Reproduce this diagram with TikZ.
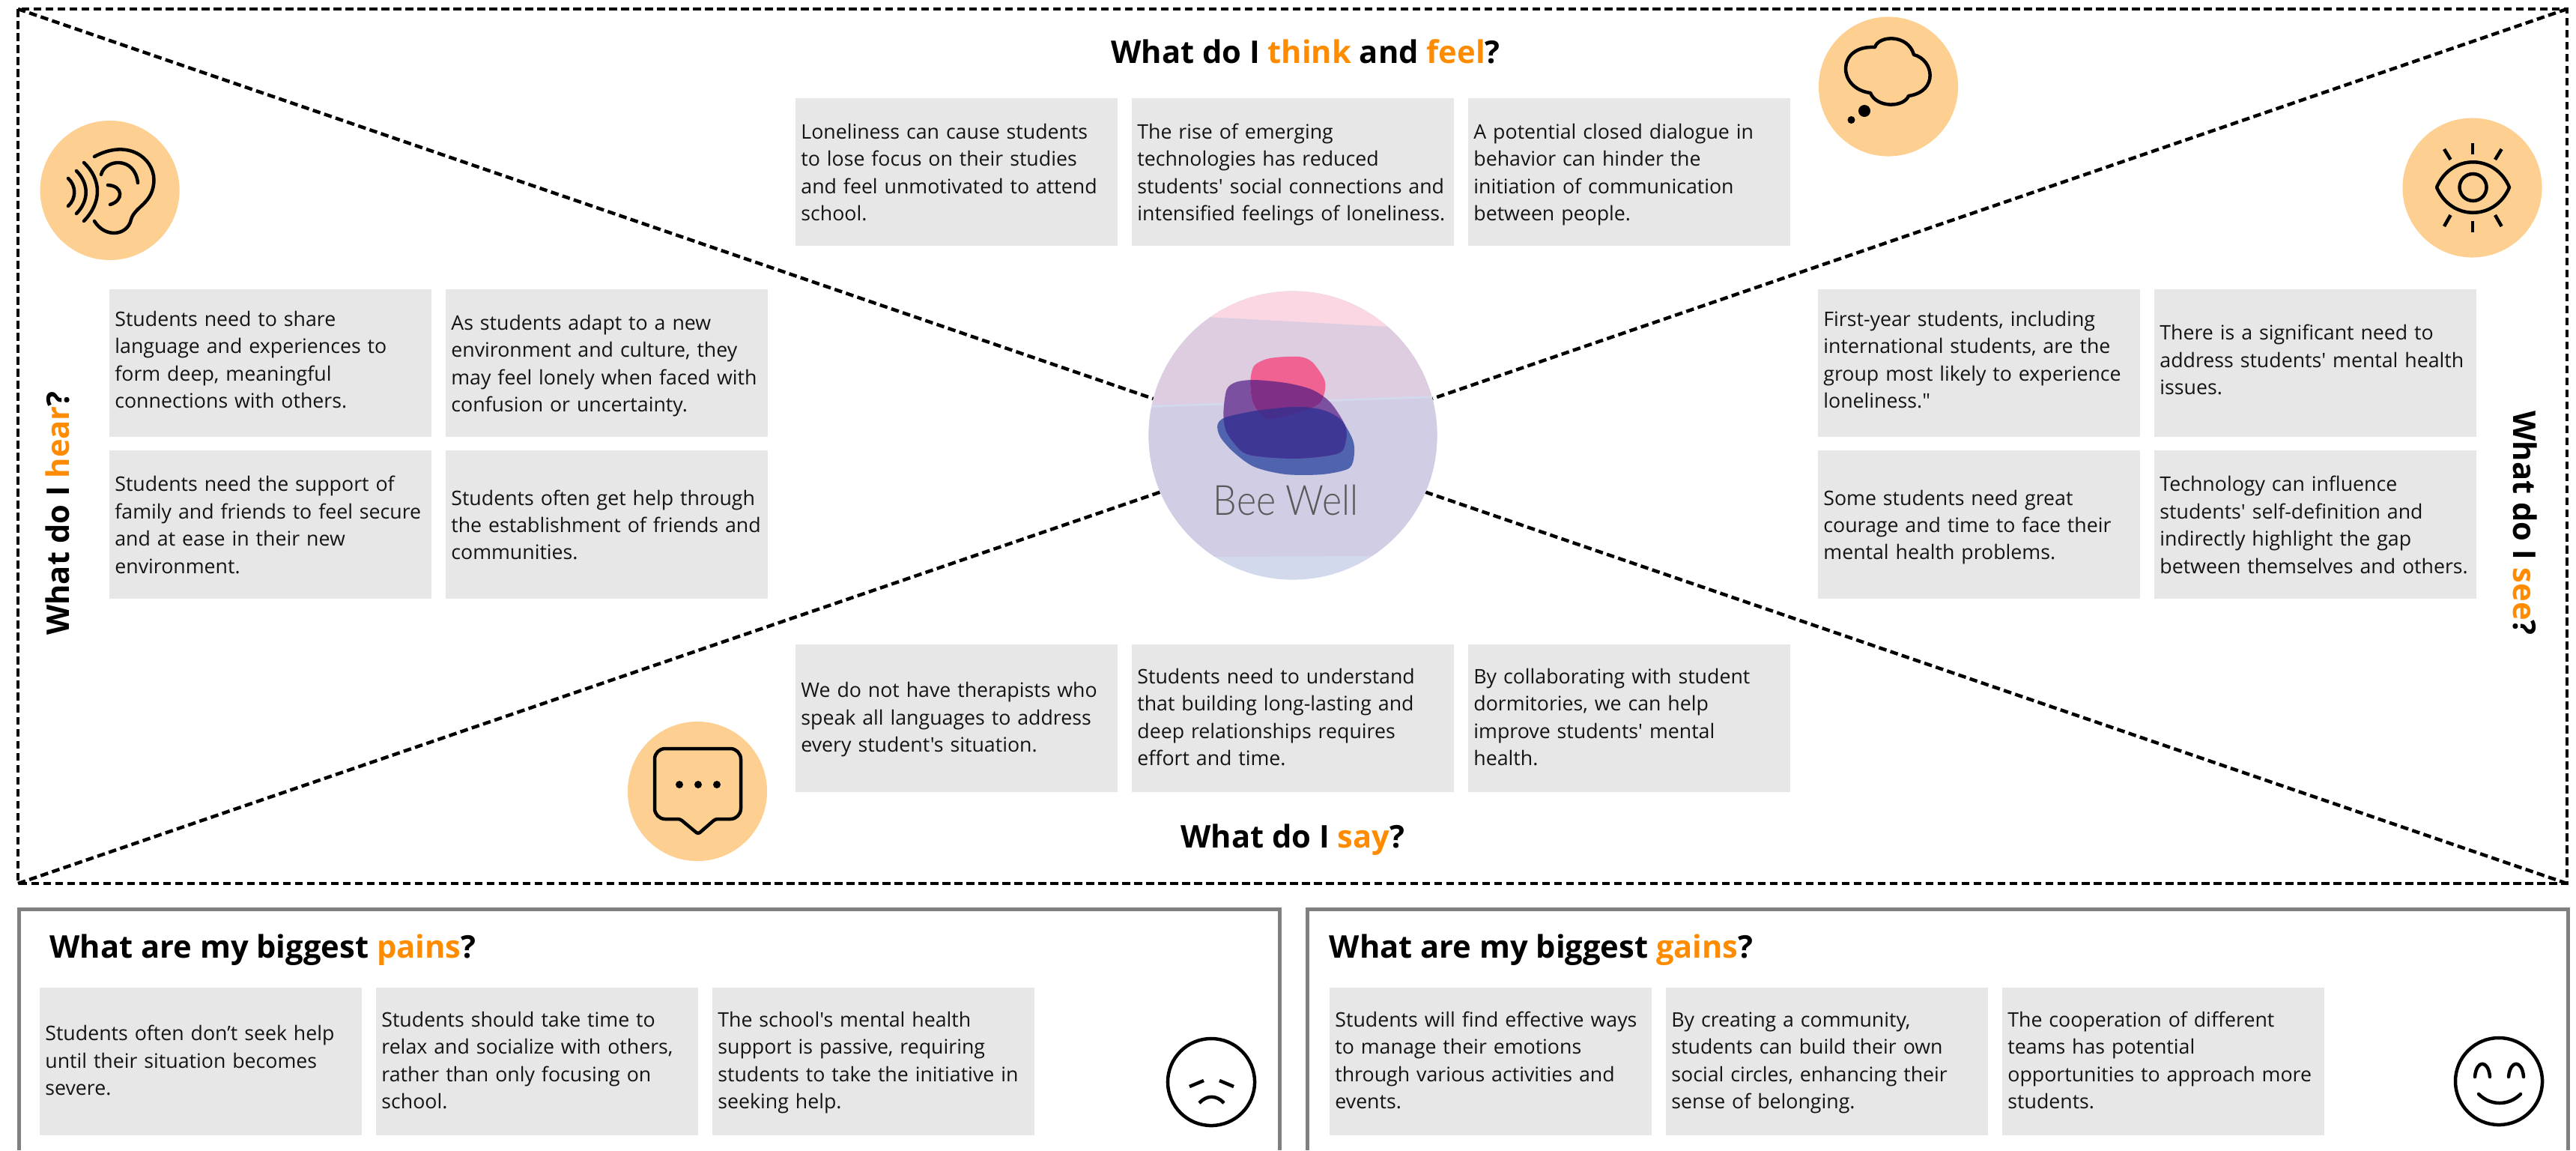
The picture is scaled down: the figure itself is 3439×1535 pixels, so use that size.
\documentclass[tikz,border=0pt]{standalone}
\usepackage{fontspec}
\usepackage{tikz}
\usetikzlibrary{positioning}
\newfontfamily\opensans{Open Sans}
\newfontfamily\beefont{Lato Light}
\definecolor{noteback}{HTML}{E7E7E7}
\definecolor{iconback}{HTML}{FDCF90}
\definecolor{keyorange}{HTML}{FF8C00}
\definecolor{framegray}{HTML}{808080}
\definecolor{bandpink}{HTML}{FBD7E3}
\definecolor{bandmauve}{HTML}{DECCE0}
\definecolor{bandlilac}{HTML}{D0CDE4}
\definecolor{bandblue}{HTML}{D3D9ED}
\definecolor{blobblue}{RGB}{80,99,174}
\definecolor{blobpurple}{RGB}{123,80,160}
\definecolor{blobpink}{RGB}{240,98,146}
\definecolor{blobplum}{RGB}{127,47,133}
\definecolor{blobnavy}{RGB}{63,55,150}
\definecolor{blobdark}{RGB}{68,48,140}
\tikzset{
  notebox/.style={fill=noteback,minimum width=4.3cm,minimum height=1.97cm,inner sep=0pt,text width=4.15cm,align=left,font=\opensans\fontsize{7.6}{10.35}\selectfont,text=black!92,execute at begin node={\rule{0pt}{7.6pt}},execute at end node={\rule[-2.75pt]{0pt}{0pt}}},
  noteup/.style={execute at end node={\rule[-4.4pt]{0pt}{0pt}}},
  notedown/.style={execute at begin node={\rule{0pt}{8.7pt}}},
  iconback/.style={circle,fill=iconback,minimum size=1.86cm,inner sep=0pt},
  heading/.style={font=\opensans\bfseries\fontsize{11.85}{14}\selectfont,inner sep=0pt},
  dashline/.style={line width=0.045cm,dash pattern=on 0.105cm off 0.055cm},
  grayframe/.style={line width=0.05cm,draw=framegray},
  iconline/.style={line width=0.045cm,line cap=round,line join=round},
  pinkblob/.style={insert path={plot[smooth cycle] coordinates {(1674.5,488) (1695.5,478) (1734,476) (1751.6,483) (1767.4,505) (1769,520) (1762,538) (1741,548) (1699,559) (1685,555) (1672.7,537) (1669.2,510)}}},
  purpleblob/.style={insert path={plot[smooth cycle] coordinates {(1650,510) (1674.5,507) (1716.6,511) (1751.6,520) (1776,537) (1795.5,567) (1797,587) (1786.7,605) (1730.6,612) (1667.5,607) (1646.4,590) (1636,573) (1633.4,550) (1637.6,520)}}},
  blueblob/.style={insert path={plot[smooth cycle] coordinates {(1625.4,567) (1636,557) (1678,548) (1730.6,543) (1765.7,547) (1790,560) (1806,587) (1807.8,607) (1800.8,625) (1765.7,633) (1716.6,633) (1674.5,623) (1646.4,603) (1629,583)}}}
}
\begin{document}
\begin{tikzpicture}[x=0.01cm,y=-0.01cm]
\useasboundingbox (0,0) rectangle (3439,1535);
\coordinate (tl) at (24,12);
\coordinate (tr) at (3427,12);
\coordinate (bl) at (24,1179);
\coordinate (br) at (3427,1179);
\coordinate (hub) at (1726,596);
\draw[dashline] (tl) rectangle (br);
\draw[dashline] (tl) -- (hub);
\draw[dashline] (tr) -- (hub);
\draw[dashline] (bl) -- (hub);
\draw[dashline] (br) -- (hub);

\node[circle,minimum size=3.85cm,inner sep=0pt,fill=bandblue] (logo) at (1726,581) {};
\begin{scope}
\clip (1726,581) circle (192.5);
\fill[bandlilac] (1500,545) -- (1950,530) -- (1950,741) -- (1500,744) -- cycle;
\fill[bandmauve] (1500,417) -- (1950,441) -- (1950,527) -- (1500,542) -- cycle;
\fill[bandpink] (1500,417) -- (1950,441) -- (1950,380) -- (1500,380) -- cycle;
\end{scope}
\fill[blobblue,blueblob];
\fill[blobpurple,purpleblob];
\fill[blobpink,pinkblob];
\begin{scope}
\clip[purpleblob];
\fill[blobplum,pinkblob];
\fill[blobnavy,blueblob];
\clip[blueblob];
\fill[blobdark,pinkblob];
\end{scope}
\node[font=\beefont\fontsize{15.8}{18}\selectfont,text=black!65,anchor=base,inner sep=0pt,xscale=0.9] (logotext) at (1716.5,687) {Bee Well};

\node[heading] (thinkhead) at (1743,69) {What do I \textcolor{keyorange}{think} and \textcolor{keyorange}{feel}?};
\node[heading] (sayhead) at (1726,1121) {What do I \textcolor{keyorange}{say}?};
\node[heading,rotate=90] (hearhead) at (77,685) {What do I \textcolor{keyorange}{hear}?};
\node[heading,rotate=-90] (seehead) at (3371,698) {What do I \textcolor{keyorange}{see}?};

\node[notebox,notedown] (think1) at (1277,229.5) {Loneliness can cause students\\to lose focus on their studies\\and feel unmotivated to attend\\school.};
\node[notebox,notedown] (think2) at (1726,229.5) {The rise of emerging\\technologies has reduced\\students' social connections and\\intensified feelings of loneliness.};
\node[notebox,notedown] (think3) at (2175,229.5) {A potential closed dialogue in\\behavior can hinder the\\initiation of communication\\between people.};
\node[notebox,noteup] (hear1) at (361,484.5) {Students need to share\\language and experiences to\\form deep, meaningful\\connections with others.};
\node[notebox,notedown] (hear2) at (810,484.5) {As students adapt to a new\\environment and culture, they\\may feel lonely when faced with\\confusion or uncertainty.};
\node[notebox,notedown] (hear3) at (361,700) {Students need the support of\\family and friends to feel secure\\and at ease in their new\\environment.};
\node[notebox,notedown] (hear4) at (810,700) {Students often get help through\\the establishment of friends and\\communities.};
\node[notebox,noteup] (see1) at (2642,484.5) {First-year students, including\\international students, are the\\group most likely to experience\\loneliness."};
\node[notebox,noteup] (see2) at (3091,484.5) {There is a significant need to\\address students' mental health\\issues.};
\node[notebox,notedown] (see3) at (2642,700) {Some students need great\\courage and time to face their\\mental health problems.};
\node[notebox,notedown] (see4) at (3091,700) {Technology can influence\\students' self-definition and\\indirectly highlight the gap\\between themselves and others.};
\node[notebox] (say1) at (1277,958.5) {We do not have therapists who\\speak all languages to address\\every student's situation.};
\node[notebox] (say2) at (1726,958.5) {Students need to understand\\that building long-lasting and\\deep relationships requires\\effort and time.};
\node[notebox] (say3) at (2175,958.5) {By collaborating with student\\dormitories, we can help\\improve students' mental\\health.};

\draw[grayframe] (25.5,1535) -- (25.5,1213.5) -- (1708,1213.5) -- (1708,1535);
\draw[grayframe] (1745.5,1535) -- (1745.5,1213.5) -- (3428,1213.5) -- (3428,1535);
\node[heading,anchor=west] (painhead) at (66,1268) {What are my biggest \textcolor{keyorange}{pains}?};
\node[heading,anchor=west] (gainhead) at (1774,1268) {What are my biggest \textcolor{keyorange}{gains}?};
\node[notebox] (pain1) at (268,1416.5) {Students often don’t seek help\\until their situation becomes\\severe.};
\node[notebox] (pain2) at (717,1416.5) {Students should take time to\\relax and socialize with others,\\rather than only focusing on\\school.};
\node[notebox] (pain3) at (1166,1416.5) {The school's mental health\\support is passive, requiring\\students to take the initiative in\\seeking help.};
\node[notebox] (gain1) at (1990,1416.5) {Students will find effective ways\\to manage their emotions\\through various activities and\\events.};
\node[notebox] (gain2) at (2439,1416.5) {By creating a community,\\students can build their own\\social circles, enhancing their\\sense of belonging.};
\node[notebox] (gain3) at (2888,1416.5) {The cooperation of different\\teams has potential\\opportunities to approach more\\students.};

\node[iconback] (earicon) at (146.6,254) {};
\node[iconback] (cloudicon) at (2521,115.5) {};
\node[iconback] (eyeicon) at (3300.5,250.5) {};
\node[iconback] (sayicon) at (931,1056) {};

\draw[iconline] (126,295) .. controls (140,318) and (170,315) .. (175,293) .. controls (180,275) and (205,272) .. (205.5,240) .. controls (205,210) and (170,185) .. (126,209);
\draw[iconline] (135,233) .. controls (140,212) and (180,208) .. (184,244);
\draw[iconline] (144,247) .. controls (165,248) and (165,268) .. (147,273);
\draw[iconline] (112,217) .. controls (136,240) and (136,270) .. (112,295);
\draw[iconline] (102,228) .. controls (119,245) and (119,268) .. (102,285);
\draw[iconline] (91,238) .. controls (102,248) and (102,265) .. (91,275);

\draw[iconline] (2503,63) .. controls (2508,47) and (2547,45) .. (2555,73) .. controls (2582,80) and (2588,122) .. (2548,128) .. controls (2541,144) and (2505,144) .. (2497,124) .. controls (2452,118) and (2452,60) .. (2503,63) -- cycle;
\fill (2489,148) circle (8);
\fill (2471.5,160) circle (5);

\draw[iconline] (3253,250) .. controls (3272,205) and (3331,205) .. (3350,250) .. controls (3331,295) and (3272,295) .. (3253,250) -- cycle;
\draw[iconline] (3301.5,250) circle (18);
\draw[iconline,line cap=butt] (3301,191) -- (3301,206);
\draw[iconline,line cap=butt] (3301,295) -- (3301,310);
\draw[iconline,line cap=butt] (3263,199) -- (3271.5,213);
\draw[iconline,line cap=butt] (3339.6,199) -- (3331,213);
\draw[iconline,line cap=butt] (3271.5,287) -- (3263,302);
\draw[iconline,line cap=butt] (3331,287) -- (3339.6,302);

\draw[iconline] [rounded corners=0.14cm] (874,1050) -- (874,999) -- (989,999) -- (989,1093) [rounded corners=0.03cm] -- (955,1093) -- (932,1113) -- (908,1093) [rounded corners=0.14cm] -- (874,1093) -- cycle;
\fill (907,1047) circle (5);
\fill (932,1047) circle (5);
\fill (957,1047) circle (5);

\node[circle,draw,line width=0.045cm,minimum size=1.16cm,inner sep=0pt] (sadface) at (1617,1444) {};
\draw[iconline,line cap=butt] (1588,1450) -- (1607,1442);
\draw[iconline,line cap=butt] (1628,1442) -- (1647,1450);
\draw[iconline,line cap=butt] (1601,1472) .. controls (1611,1461) and (1624,1461) .. (1634,1472);

\node[circle,draw,line width=0.045cm,minimum size=1.16cm,inner sep=0pt] (happyface) at (3336,1443) {};
\draw[iconline] (3304,1437) .. controls (3306,1414) and (3322,1414) .. (3324,1437);
\draw[iconline] (3349,1437) .. controls (3351,1414) and (3367,1414) .. (3369,1437);
\draw[iconline] (3309,1460) .. controls (3325,1476) and (3349,1476) .. (3365,1460);
\end{tikzpicture}
\end{document}
